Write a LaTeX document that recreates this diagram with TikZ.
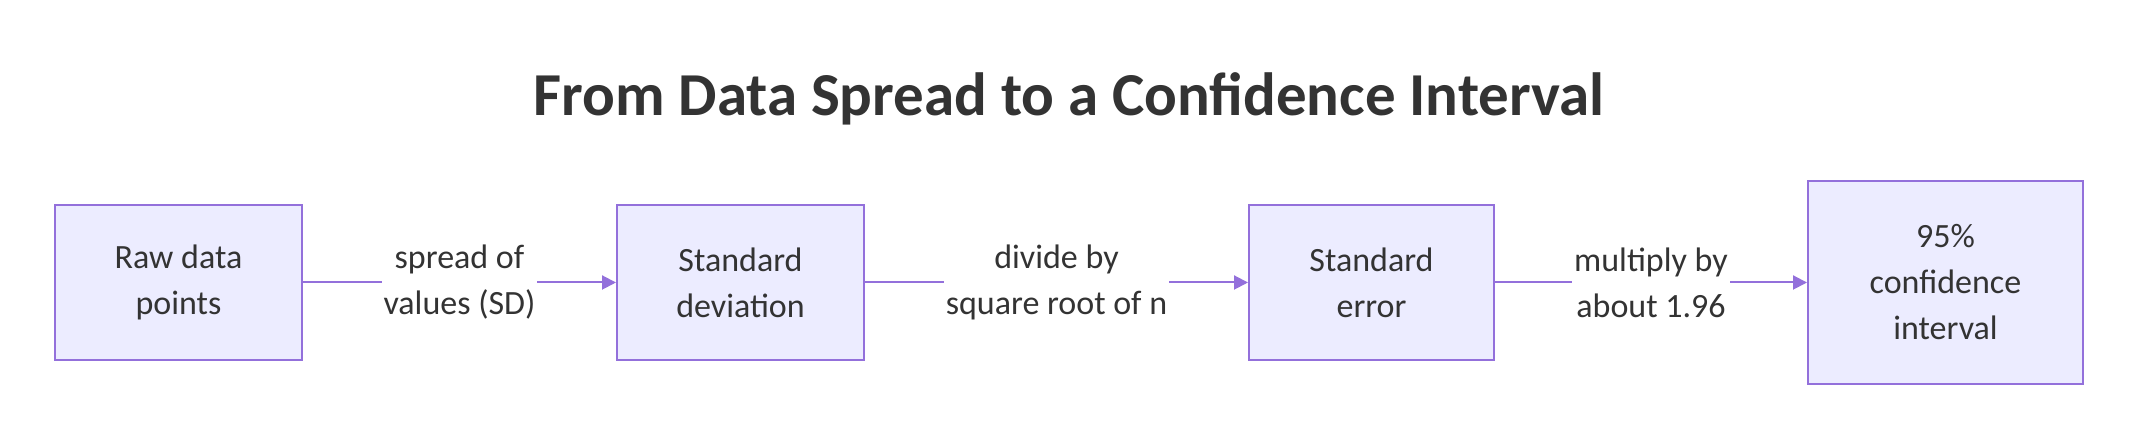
\documentclass[tikz,border=0pt]{standalone}
\usepackage{fontspec}
\setmainfont{Carlito}
\usetikzlibrary{arrows.meta}
\definecolor{boxfill}{HTML}{ECECFF}
\definecolor{boxline}{HTML}{9370DB}
\definecolor{txt}{HTML}{333333}
\begin{document}
\begin{tikzpicture}[x=1pt, y=1pt,
  box/.style={draw=boxline, fill=boxfill, line width=1pt, minimum width=123.5pt,
    minimum height=77.5pt, inner sep=0pt, align=center, text=txt,
    font=\fontsize{17}{23}\selectfont},
  elabel/.style={fill=white, inner sep=1pt, align=center, text=txt,
    font=\fontsize{17}{23}\selectfont},
  link/.style={draw=boxline, line width=1pt, -{Triangle[length=7pt, width=7pt]}}]
  \useasboundingbox (0,0) rectangle (1077,221);

  % title
  \node [text=txt, font=\fontsize{30.5}{36}\selectfont\bfseries] (title) at (534.5,171.5)
    {From Data Spread to a Confidence Interval};

  % boxes
  \node [box] (raw) at (89.25,79.75) {Raw data\\points};
  \node [box] (sd) at (370.25,79.75) {Standard\\deviation};
  \node [box, minimum width=122.5pt] (se) at (685.75,79.75) {Standard\\error};
  \node [box, minimum width=137.5pt, minimum height=101.5pt] (ci) at (972.75,79.75)
    {95\%\\confidence\\interval};

  % links
  \draw [link] (raw) -- node[elabel] {spread of\\values (SD)} (sd);
  \draw [link] (sd) -- node[elabel] {divide by\\square root of n} (se);
  \draw [link] (se) -- node[elabel] {multiply by\\about 1.96} (ci);
\end{tikzpicture}
\end{document}
